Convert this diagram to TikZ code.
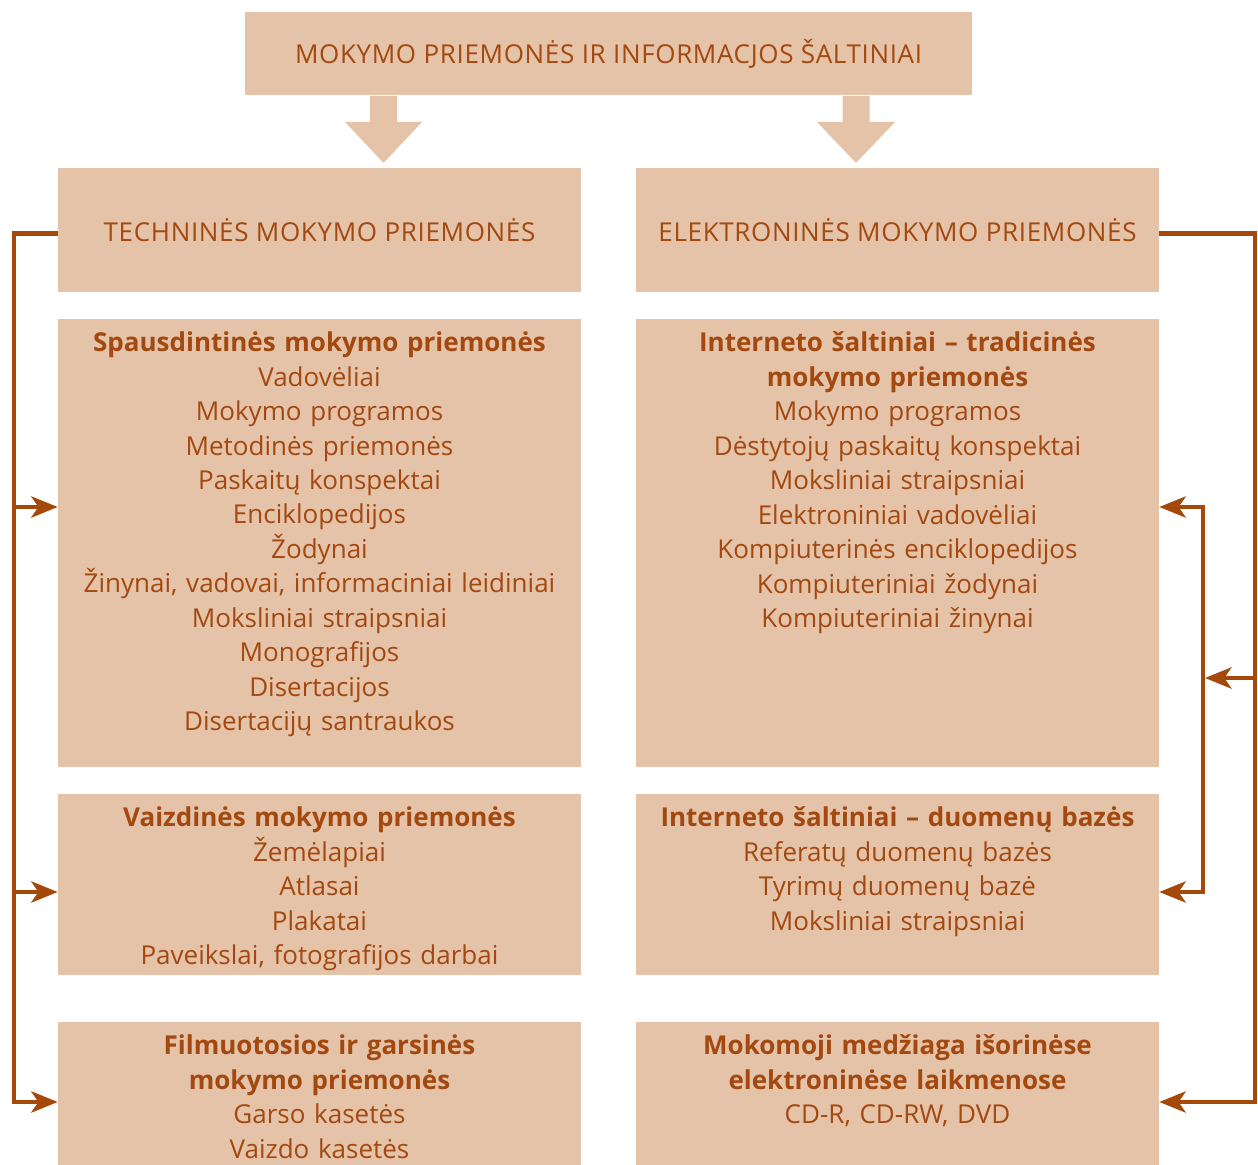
\documentclass[tikz,border=0pt]{standalone}
\usepackage{fontspec}
\setmainfont{Open Sans}
\usetikzlibrary{arrows.meta,positioning}
\definecolor{boxfill}{HTML}{E5C3A9}
\definecolor{rust}{HTML}{A3480F}
\definecolor{linecol}{HTML}{A5490B}
\begin{document}
\begin{tikzpicture}[
            x = 0.02cm, y = -0.02cm,
            every node/.style={font=\fontsize{14.8}{19.6}\selectfont, text=rust},
            caps/.style={font=\fontsize{14.8}{19.6}\selectfont\addfontfeatures{LetterSpace=2.5}},
            pbox/.style={rectangle, fill=boxfill, inner sep=0pt, minimum width=10.46cm},
            txt/.style={anchor=north, align=center, text width=10.3cm, inner sep=0pt, yshift=-0.26cm},
            link/.style={draw=linecol, line width=2.6pt},
            linkarrow/.style={-{Stealth[length=15pt, width=12pt, inset=4pt]}},
            botharrow/.style={{Stealth[length=15pt, width=12pt, inset=4pt]}-{Stealth[length=15pt, width=12pt, inset=4pt]}},
            ]

        \useasboundingbox (0,0) rectangle (1258,1165);

        \node[pbox, caps, minimum width=14.54cm, minimum height=1.66cm] (top) at (608.5,53.5) {MOKYMO PRIEMONĖS IR INFORMACJOS ŠALTINIAI};

        \fill[boxfill] (370,96) -- (397,96) -- (397,122) -- (422,122) -- (383.5,163) -- (345,122) -- (370,122) -- cycle;
        \fill[boxfill] (842.5,96) -- (869.5,96) -- (869.5,122) -- (895,122) -- (856,163) -- (817,122) -- (842.5,122) -- cycle;

        \node[pbox, caps, minimum height=2.48cm] (tech) at (319.5,230) {TECHNINĖS MOKYMO PRIEMONĖS};
        \node[pbox, caps, minimum height=2.48cm] (elek) at (897.5,230) {ELEKTRONINĖS MOKYMO PRIEMONĖS};

        \node[pbox, minimum height=8.96cm] (spaud) at (319.5,543) {};
        \node[txt] (spaudtxt) at (spaud.north) {\textbf{Spausdintinės mokymo priemonės}\\Vadovėliai\\Mokymo programos\\Metodinės priemonės\\Paskaitų konspektai\\Enciklopedijos\\Žodynai\\Žinynai, vadovai, informaciniai leidiniai\\Moksliniai straipsniai\\Monografijos\\Disertacijos\\Disertacijų santraukos};

        \node[pbox, minimum height=8.96cm] (intern) at (897.5,543) {};
        \node[txt] (interntxt) at (intern.north) {\textbf{Interneto šaltiniai – tradicinės}\\\textbf{mokymo priemonės}\\Mokymo programos\\Dėstytojų paskaitų konspektai\\Moksliniai straipsniai\\Elektroniniai vadovėliai\\Kompiuterinės enciklopedijos\\Kompiuteriniai žodynai\\Kompiuteriniai žinynai};

        \node[pbox, minimum height=3.62cm] (vaizd) at (319.5,884.5) {};
        \node[txt] (vaizdtxt) at (vaizd.north) {\textbf{Vaizdinės mokymo priemonės}\\Žemėlapiai\\Atlasai\\Plakatai\\Paveikslai, fotografijos darbai};

        \node[pbox, minimum height=3.62cm] (db) at (897.5,884.5) {};
        \node[txt] (dbtxt) at (db.north) {\textbf{Interneto šaltiniai – duomenų bazės}\\Referatų duomenų bazės\\Tyrimų duomenų bazė\\Moksliniai straipsniai};

        \node[pbox, minimum height=2.86cm] (film) at (319.5,1093.5) {};
        \node[txt] (filmtxt) at (film.north) {\textbf{Filmuotosios ir garsinės}\\\textbf{mokymo priemonės}\\Garso kasetės\\Vaizdo kasetės};

        \node[pbox, minimum height=2.86cm] (laik) at (897.5,1093.5) {};
        \node[txt] (laiktxt) at (laik.north) {\textbf{Mokomoji medžiaga išorinėse}\\\textbf{elektroninėse laikmenose}\\CD-R, CD-RW, DVD};

        \coordinate (ltop) at (14,233.5);
        \coordinate (lbot) at (14,1102);
        \coordinate (lspaud) at (14,507);
        \coordinate (lvaizd) at (14,892);
        \draw[link, linkarrow] (tech.west |- ltop) -- (ltop) -- (lbot) -- (film.west |- lbot);
        \draw[link, linkarrow] (lspaud) -- (spaud.west |- lspaud);
        \draw[link, linkarrow] (lvaizd) -- (vaizd.west |- lvaizd);

        \coordinate (rtop) at (1255,233.5);
        \coordinate (rbot) at (1255,1102);
        \coordinate (rin1) at (1203,507);
        \coordinate (rin2) at (1203,892);
        \coordinate (rmid) at (1255,678);
        \coordinate (rmidend) at (1205,678);
        \draw[link, linkarrow] (elek.east |- rtop) -- (rtop) -- (rbot) -- (laik.east |- rbot);
        \draw[link, botharrow] (intern.east |- rin1) -- (rin1) -- (rin2) -- (db.east |- rin2);
        \draw[link, linkarrow] (rmid) -- (rmidend);
    \end{tikzpicture}
\end{document}
